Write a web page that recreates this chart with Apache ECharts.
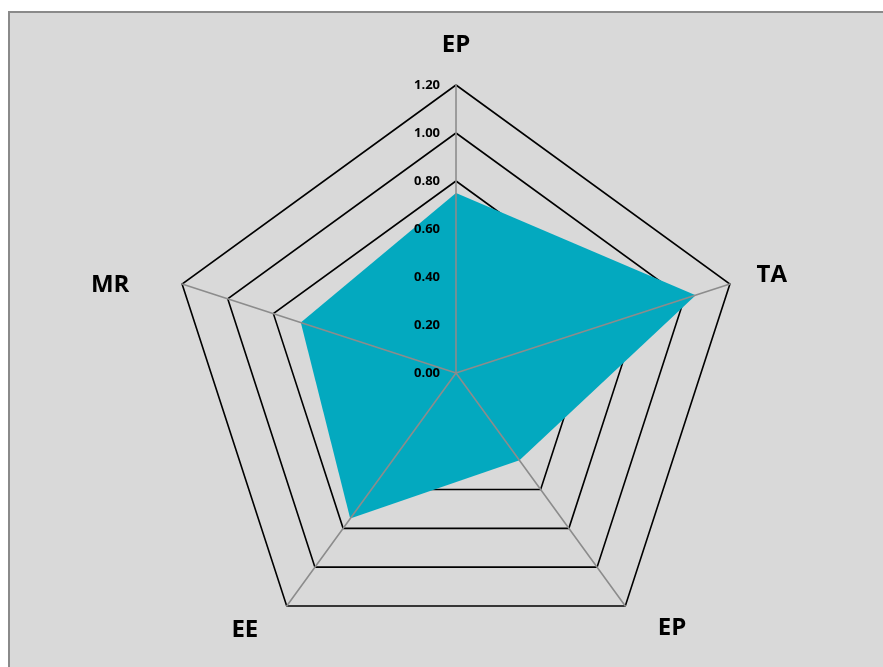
<!DOCTYPE html>
<html>
<head>
<meta charset="utf-8">
<script src="https://cdn.jsdelivr.net/npm/echarts@6/dist/echarts.min.js"></script>
<style>
  html, body { margin: 0; padding: 0; background: #ffffff; }
  #frame { position: absolute; left: 8px; top: 11px; width: 873px; height: 660px;
           background: #d9d9d9; border-left: 2px solid #8a8a8a; border-top: 2px solid #8a8a8a; border-right: 2px solid #8a8a8a; }
  #chart { position: absolute; left: 0; top: 0; width: 883px; height: 667px; }
</style>
</head>
<body>
<div id="frame"></div>
<div id="chart"></div>
<script>
// Categories in clockwise order starting from the top
const categories = ['EP', 'TA', 'EP', 'EE', 'MR'];
const values = [0.75, 1.05, 0.45, 0.75, 0.68];
const axisMax = 1.2;
const tickLabels = ['0.00', '0.20', '0.40', '0.60', '0.80', '1.00', '1.20'];

// ECharts radar runs counter-clockwise: keep the first, reverse the rest
const order = [0].concat(categories.slice(1).map(function (_, i) { return categories.length - 1 - i; }));

const chart = echarts.init(document.getElementById('chart'), null, { renderer: 'canvas' });
const center = [456, 373];
const radius = 288;

const nameFont = { fontSize: 24, fontWeight: 'bold', fontFamily: 'Open Sans', color: '#000' };
const namePads = [[0, 0, 0, 0], [0, 0, 0, 0], [0, 0, 0, 16], [4, 12, 0, 0], [20, 26, 0, 0]];
const rich = {};
namePads.forEach(function (p, k) { rich['n' + k] = Object.assign({ padding: p }, nameFont); });

const indicatorsBase = order.map(function (k) { return { name: categories[k], max: axisMax, min: 0, idx: k }; });
const indicatorsOverlay = order.map(function (k, i) {
  const o = { name: categories[k], max: axisMax, min: 0 };
  if (i === 0) {
    o.axisLabel = {
      show: true, fontSize: 13, fontWeight: 'bold', color: '#000',
      fontFamily: 'Open Sans', margin: 16,
      formatter: function (v) { return tickLabels[Math.round(v / 0.2)]; }
    };
  }
  return o;
});

chart.setOption({
  animation: false,
  backgroundColor: 'transparent',
  radar: [
    {
      center: center, radius: radius, startAngle: 90, splitNumber: 6, shape: 'polygon',
      indicator: indicatorsBase,
      axisName: Object.assign({
        formatter: function (name, ind) { return '{n' + ind.idx + '|' + name + '}'; },
        rich: rich
      }, nameFont),
      nameGap: 28,
      splitLine: { lineStyle: { color: '#000', width: 1.6 } },
      splitArea: { show: false },
      axisLine: { show: false },
      axisTick: { show: false },
      axisLabel: { show: false },
      z: 0
    },
    {
      center: center, radius: radius, startAngle: 90, splitNumber: 6, shape: 'polygon',
      indicator: indicatorsOverlay,
      axisName: { show: false },
      splitLine: { show: false },
      splitArea: { show: false },
      axisLine: { show: true, lineStyle: { color: '#8c8c8c', width: 1.6 } },
      axisTick: { show: false },
      axisLabel: { show: false },
      z: 5
    }
  ],
  series: [{
    type: 'radar',
    radarIndex: 0,
    z: 2,
    symbol: 'none',
    lineStyle: { width: 0 },
    areaStyle: { color: '#03a9bf', opacity: 1 },
    data: [{ value: order.map(function (k) { return values[k]; }) }]
  }]
});
</script>
</body>
</html>
